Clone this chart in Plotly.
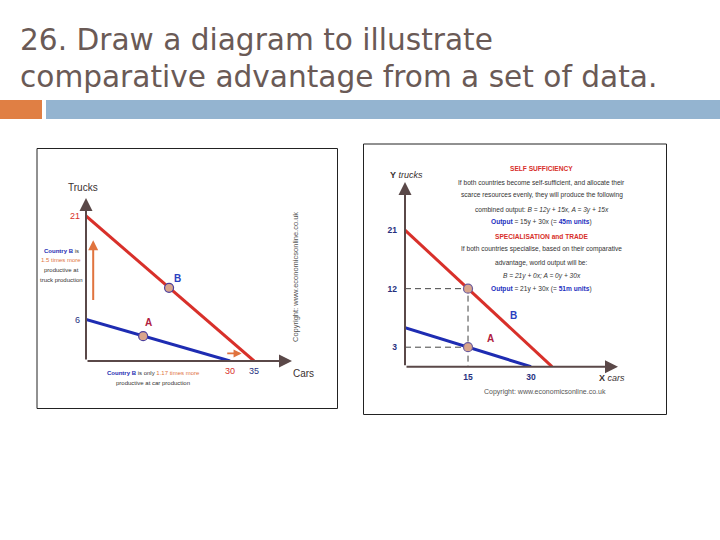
import plotly.graph_objects as go

W, H = 720, 540


def px(x):
    return x / W


def py(y):
    return 1 - y / H


# ---------------- data ----------------
title_lines = ["26. Draw a diagram to illustrate",
               "comparative advantage from a set of data."]

# production possibility frontiers (cars on x, trucks on y)
country_a_cars = [0, 30]
country_a_trucks = [6, 0]
country_b_cars = [0, 35]
country_b_trucks = [21, 0]

# left diagram: chosen points
left_point_cars = [11.9, 17.3]
left_point_trucks = [3.6, 10.6]
left_point_labels = ["A", "B"]
left_x_ticks = [30, 35]
left_y_ticks = [6, 21]

# right diagram: self-sufficiency points
right_point_cars = [15, 15]
right_point_trucks = [3, 12]
right_x_ticks = [15, 30]
right_y_ticks = [3, 12, 21]

# ---------------- styles ----------------
RED = "#d8302a"
BLUE = "#1e2cb2"
AXIS = "#5a4848"
DARKBLUE = "#26307e"
ORANGE = "#e0733e"
MARK = "#d9a58c"
NARROW = "Liberation Sans Narrow, Liberation Sans, Arial, sans-serif"

fig = go.Figure()

# ---- left diagram traces ----
fig.add_trace(go.Scatter(x=country_b_cars, y=country_b_trucks, mode="lines",
                         line=dict(color=RED, width=3), xaxis="x", yaxis="y"))
fig.add_trace(go.Scatter(x=country_a_cars, y=country_a_trucks, mode="lines",
                         line=dict(color=BLUE, width=3), xaxis="x", yaxis="y"))
fig.add_trace(go.Scatter(x=left_point_cars, y=left_point_trucks, mode="markers",
                         marker=dict(size=9, color=MARK, line=dict(color="#4b3f9c", width=1.2)),
                         xaxis="x", yaxis="y", cliponaxis=False))

# ---- right diagram traces ----
dash_x = [0, right_point_cars[1], right_point_cars[1], None, 0, right_point_cars[0]]
dash_y = [right_point_trucks[1], right_point_trucks[1], 0, None,
          right_point_trucks[0], right_point_trucks[0]]
fig.add_trace(go.Scatter(x=dash_x, y=dash_y, mode="lines",
                         line=dict(color="#444444", width=1, dash="6px,4px"),
                         xaxis="x2", yaxis="y2"))
fig.add_trace(go.Scatter(x=country_b_cars, y=country_b_trucks, mode="lines",
                         line=dict(color=RED, width=3), xaxis="x2", yaxis="y2"))
fig.add_trace(go.Scatter(x=country_a_cars, y=country_a_trucks, mode="lines",
                         line=dict(color=BLUE, width=3), xaxis="x2", yaxis="y2"))
fig.add_trace(go.Scatter(x=right_point_cars, y=right_point_trucks, mode="markers",
                         marker=dict(size=9, color=MARK, line=dict(color="#6a5a9c", width=1.2)),
                         xaxis="x2", yaxis="y2", cliponaxis=False))

L_XMAX, L_YMAX = 42.9, 23.6
R_XMAX, R_YMAX = 50.7, 28.4

left_tick_colors_x = [RED, DARKBLUE]
left_tick_colors_y = [DARKBLUE, RED]

axis_common = dict(showgrid=False, zeroline=False, showline=False, ticks="",
                   fixedrange=True)

fig.update_layout(
    width=W, height=H, margin=dict(l=0, r=0, t=0, b=0),
    paper_bgcolor="white", plot_bgcolor="rgba(0,0,0,0)", showlegend=False,
    xaxis=dict(domain=[px(86), px(292)], range=[0, L_XMAX], anchor="y",
               tickvals=left_x_ticks,
               ticktext=[f"<span style='color:{c}'>{v}</span>" for v, c in zip(left_x_ticks, left_tick_colors_x)],
               tickfont=dict(family="Liberation Sans, Arial", size=9), ticklabelstandoff=3,
               **axis_common),
    yaxis=dict(domain=[py(361), py(198)], range=[0, L_YMAX], anchor="x",
               tickvals=left_y_ticks,
               ticktext=[f"<span style='color:{c}'>{v}</span>" for v, c in zip(left_y_ticks, left_tick_colors_y)],
               tickfont=dict(family="Liberation Sans, Arial", size=9), ticklabelstandoff=5,
               **axis_common),
    xaxis2=dict(domain=[px(405), px(618)], range=[0, R_XMAX], anchor="y2",
                tickvals=right_x_ticks, ticktext=[f"<b>{v}</b>" for v in right_x_ticks],
                tickfont=dict(family="Liberation Sans, Arial", size=8.5, color=DARKBLUE),
                ticklabelstandoff=4, **axis_common),
    yaxis2=dict(domain=[py(366.7), py(182)], range=[0, R_YMAX], anchor="x2",
                tickvals=right_y_ticks, ticktext=[f"<b>{v}</b>" for v in right_y_ticks],
                tickfont=dict(family="Liberation Sans, Arial", size=8.5, color=DARKBLUE),
                ticklabelstandoff=7, **axis_common),
)

shapes = [
    dict(type="rect", xref="paper", yref="paper", x0=0, x1=px(42), y0=py(119), y1=py(100),
         fillcolor="#e07f44", line=dict(width=0)),
    dict(type="rect", xref="paper", yref="paper", x0=px(46), x1=1, y0=py(119), y1=py(100),
         fillcolor="#94b4d0", line=dict(width=0)),
    dict(type="rect", xref="paper", yref="paper", x0=px(37), x1=px(337.5), y0=py(408.5), y1=py(148.5),
         line=dict(color="#222222", width=1)),
    dict(type="rect", xref="paper", yref="paper", x0=px(363.5), x1=px(666.5), y0=py(414.5), y1=py(144),
         line=dict(color="#222222", width=1)),
]
fig.update_layout(shapes=shapes)

ann = []
TITLE_COLOR = "#6a5a56"
ann.append(dict(xref="paper", yref="paper", x=px(18), y=py(40), xanchor="left", yanchor="middle",
                text=title_lines[0], showarrow=False,
                font=dict(family="DejaVu Sans, Liberation Sans", size=29.6, color=TITLE_COLOR)))
ann.append(dict(xref="paper", yref="paper", x=px(18), y=py(77), xanchor="left", yanchor="middle",
                text=title_lines[1], showarrow=False,
                font=dict(family="DejaVu Sans, Liberation Sans", size=29.6, color=TITLE_COLOR)))


def axis_arrows(xr, yr, xmax, ymax):
    out = []
    out.append(dict(xref=xr, yref=yr, axref=xr, ayref=yr, x=xmax, y=0, ax=0, ay=0,
                    text="", showarrow=True, arrowhead=2, arrowsize=1.3, arrowwidth=2,
                    arrowcolor=AXIS))
    out.append(dict(xref=xr, yref=yr, axref=xr, ayref=yr, x=0, y=ymax, ax=0, ay=0,
                    text="", showarrow=True, arrowhead=2, arrowsize=1.3, arrowwidth=2,
                    arrowcolor=AXIS))
    return out


ann += axis_arrows("x", "y", L_XMAX, L_YMAX)
ann += axis_arrows("x2", "y2", R_XMAX, R_YMAX)

# orange arrows on the left diagram
ann.append(dict(xref="x", yref="y", axref="x", ayref="y", x=1.5, y=17.5, ax=1.5, ay=8.6,
                text="", showarrow=True, arrowhead=2, arrowsize=1, arrowwidth=2, arrowcolor=ORANGE))
ann.append(dict(xref="x", yref="y", axref="x", ayref="y", x=32.4, y=1.1, ax=29.1, ay=1.1,
                text="", showarrow=True, arrowhead=2, arrowsize=1, arrowwidth=1.6, arrowcolor=ORANGE))


def txt(x, y, text, size, color="#333333", family=NARROW, xanchor="center", angle=0):
    return dict(xref="paper", yref="paper", x=px(x), y=py(y), xanchor=xanchor, yanchor="middle",
                text=text, showarrow=False, textangle=angle,
                font=dict(family=family, size=size, color=color))


# left diagram texts
ann.append(txt(83, 187, "Trucks", 10, "#3a3030", "Liberation Sans, Arial"))
ann.append(txt(303, 374, "Cars", 10, "#3a3030", "Liberation Sans, Arial"))
ann.append(txt(177, 278, f"<b>{left_point_labels[1]}</b>", 10, "#2a40c0", "Liberation Sans, Arial"))
ann.append(txt(148, 322, f"<b>{left_point_labels[0]}</b>", 10, "#b02040", "Liberation Sans, Arial"))
ann.append(txt(295, 277, "Copyright: www.economicsonline.co.uk", 7.5, "#555555", angle=-90))
ann.append(txt(61, 251, f"<b><span style='color:{BLUE}'>Country B</span></b> is", 6))
ann.append(txt(61, 260, f"<span style='color:{ORANGE}'>1.5 times more</span>", 6))
ann.append(txt(61, 270, "productive at", 6))
ann.append(txt(61, 280, "truck production", 6))
ann.append(txt(153, 372.5, f"<b><span style='color:{BLUE}'>Country B</span></b> is only "
                           f"<span style='color:{ORANGE}'>1.17 times more</span>", 6))
ann.append(txt(153, 382.5, "productive at car production", 6))

# right diagram texts
ann.append(txt(388, 175, "<b>Y</b> <i>trucks</i>", 9, "#3a3030", "Liberation Sans, Arial", xanchor="left"))
ann.append(txt(597, 378, "<b>X</b> <i>cars</i>", 9, "#3a3030", "Liberation Sans, Arial", xanchor="left"))
ann.append(txt(513, 315.5, "<b>B</b>", 10, "#2a40c0", "Liberation Sans, Arial"))
ann.append(txt(490.5, 338.5, "<b>A</b>", 10, "#b02040", "Liberation Sans, Arial"))
ann.append(txt(545, 392, "Copyright: www.economicsonline.co.uk", 7, "#555555"))

BB = "#2430c0"
right_lines = [
    (169, f"<b><span style='color:{RED}'>SELF SUFFICIENCY</span></b>"),
    (182.7, "If both countries become self-sufficient, and allocate their"),
    (195.3, "scarce resources evenly, they will produce the following"),
    (209.7, "combined output: <i>B = 12y + 15x, A = 3y + 15x</i>"),
    (222, f"<b><span style='color:{BB}'>Output</span></b> = 15y + 30x (= <b><span style='color:{BB}'>45m units</span></b>)"),
    (236, f"<b><span style='color:{RED}'>SPECIALISATION and TRADE</span></b>"),
    (249.3, "If both countries specialise, based on their comparative"),
    (262.7, "advantage, world output will be:"),
    (276, "<i>B = 21y + 0x; A = 0y + 30x</i>"),
    (289.3, f"<b><span style='color:{BB}'>Output</span></b> = 21y + 30x (= <b><span style='color:{BB}'>51m units</span></b>)"),
]
for y, t in right_lines:
    ann.append(txt(541.7, y, t, 6.6))

fig.update_layout(annotations=ann)

fig.write_html("out.html", config={"displayModeBar": False},
               post_script="document.body.style.margin='0';document.body.style.overflow='hidden';")
